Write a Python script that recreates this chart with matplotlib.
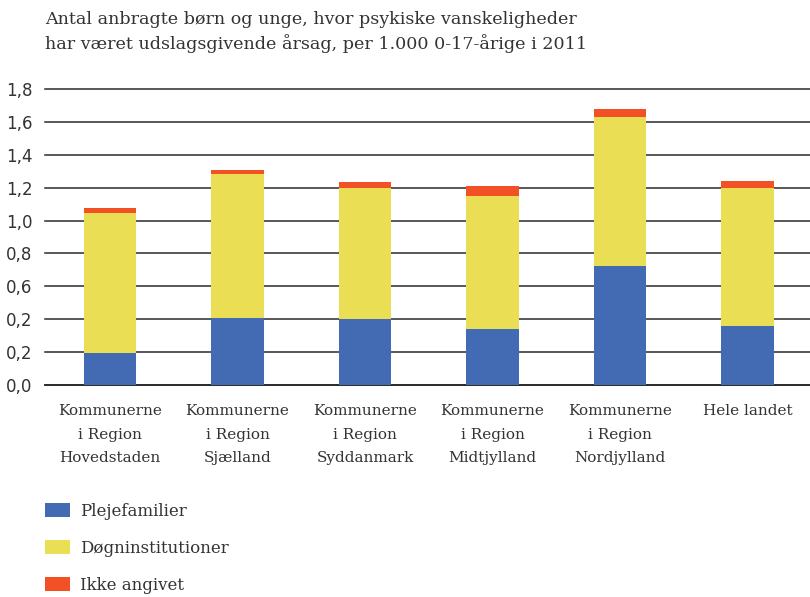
import matplotlib
matplotlib.use("Agg")
import matplotlib.pyplot as plt
import numpy as np

# data (per 1.000 0-17-årige)
regions = [
    "Kommunerne\ni Region\nHovedstaden",
    "Kommunerne\ni Region\nSjælland",
    "Kommunerne\ni Region\nSyddanmark",
    "Kommunerne\ni Region\nMidtjylland",
    "Kommunerne\ni Region\nNordjylland",
    "Hele landet",
]
plejefamilier = [0.196, 0.408, 0.401, 0.341, 0.724, 0.359]
doegninst = [0.852, 0.875, 0.799, 0.809, 0.906, 0.839]
ikke_angivet = [0.029, 0.025, 0.035, 0.060, 0.049, 0.043]

yticks = [0.0, 0.2, 0.4, 0.6, 0.8, 1.0, 1.2, 1.4, 1.6, 1.8]
# as printed in the original (second "0,2" included)
ytick_labels = ["0,0", "0,2", "0,2", "0,6", "0,8", "1,0", "1,2", "1,4", "1,6", "1,8"]

BLUE = "#436bb3"
YELLOW = "#eade55"
RED = "#f15124"
TXT = "#333333"

serif = ["DejaVu Serif"]

fig = plt.figure(figsize=(8.1, 5.97), dpi=100)
ax = fig.add_axes([45 / 810, 1 - 385 / 597, 1 - 45 / 810, (385 - 89) / 597])

x = np.arange(len(regions))
w = 0.41
b1 = ax.bar(x, plejefamilier, w, color=BLUE, zorder=3, label="Plejefamilier")
b2 = ax.bar(x, doegninst, w, bottom=plejefamilier, color=YELLOW, zorder=3,
            label="Døgninstitutioner")
bottom3 = np.array(plejefamilier) + np.array(doegninst)
b3 = ax.bar(x, ikke_angivet, w, bottom=bottom3, color=RED, zorder=3,
            label="Ikke angivet")

ax.set_xlim(-0.51, 5.49)
ax.set_ylim(0, 1.8)
ax.set_yticks(yticks)
ax.set_yticklabels(ytick_labels, fontsize=12, color=TXT)
ax.yaxis.grid(True, color="#2a2a2a", linewidth=1.1, zorder=0)
ax.set_axisbelow(True)
ax.tick_params(axis="y", length=0, pad=9)
for gl in ax.get_ygridlines():
    gl.set_clip_on(False)

ax.set_xticks(x)
ax.set_xticklabels(regions, fontsize=11, color=TXT, family=serif,
                   linespacing=1.85, va="top")
ax.tick_params(axis="x", length=0, pad=14)

for s in ["left", "right", "top"]:
    ax.spines[s].set_visible(False)
ax.spines["bottom"].set_color("#2a2a2a")
ax.spines["bottom"].set_linewidth(1.3)

fig.text(45 / 810, 1 - 11 / 597,
         "Antal anbragte børn og unge, hvor psykiske vanskeligheder\n"
         "har været udslagsgivende årsag, per 1.000 0-17-årige i 2011",
         fontsize=12.6, color=TXT, family=serif, va="top", ha="left",
         linespacing=1.4)

fig.legend(handles=[b1, b2, b3], loc="upper left",
           bbox_to_anchor=(38 / 810, 1 - 496 / 597), frameon=False,
           prop={"family": serif, "size": 12}, labelcolor=TXT,
           handlelength=1.5, handleheight=0.85, handletextpad=0.6,
           labelspacing=1.2, borderaxespad=0)

fig.savefig("out.png", dpi=100)
